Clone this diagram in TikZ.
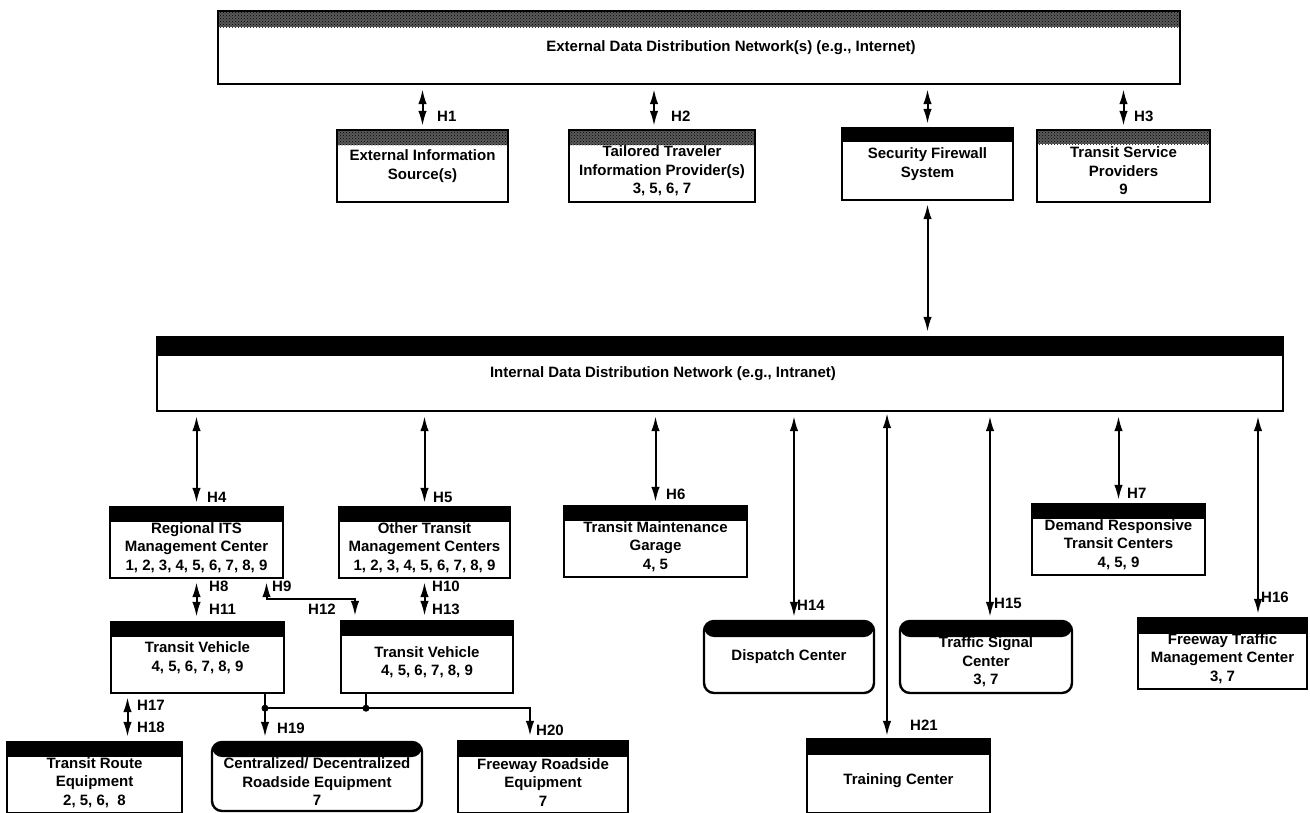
\documentclass[tikz,border=0pt]{standalone}
\usepackage{fontspec}
\setmainfont{Liberation Sans}
\usetikzlibrary{arrows.meta,patterns}
\newcommand\dropline{\rule{0pt}{21pt}}

\begin{document}
\begin{tikzpicture}[x=1pt,y=-1pt,
  font=\fontsize{15}{18.5}\selectfont\bfseries,
  cell/.style={draw,line width=2.4pt,align=center,inner sep=1pt},
  rcell/.style={cell,rounded corners=10pt},
  blackbar/.style={path picture={\fill (path picture bounding box.north west) rectangle ([yshift=-#1]path picture bounding box.north east);}},
  dotbar/.style={path picture={\fill[black!65] (path picture bounding box.north west) rectangle ([yshift=-#1]path picture bounding box.north east);
    \fill[pattern=crosshatch dots] (path picture bounding box.north west) rectangle ([yshift=-#1]path picture bounding box.north east);}},
  link/.style={{Latex[length=15pt,width=8.5pt]}-{Latex[length=15pt,width=8.5pt]},line width=2pt,shorten <=3pt,shorten >=4pt},
  feed/.style={-{Latex[length=15pt,width=8.5pt]},line width=2pt,shorten >=4pt},
  wire/.style={line width=2pt},
  hname/.style={anchor=west,inner sep=0pt}]
\useasboundingbox (0,0) rectangle (1310,812);

\node[cell,dotbar=16pt,minimum width=962pt,minimum height=73pt] (ext) at (699,47.5) {\hspace*{64pt}External Data Distribution Network(s) (e.g., Internet)};
\node[cell,dotbar=15pt,minimum width=171pt,minimum height=72pt] (eis) at (422.5,166) {External Information\\Source(s)};
\node[cell,dotbar=15pt,minimum width=186pt,minimum height=72pt] (ttip) at (662,166) {\dropline Tailored Traveler\\Information Provider(s)\\3, 5, 6, 7};
\node[cell,blackbar=14pt,minimum width=171pt,minimum height=72pt] (fw) at (927.5,164) {Security Firewall\\System};
\node[cell,dotbar=14pt,minimum width=173pt,minimum height=72pt] (tsp) at (1123.5,166) {\dropline Transit Service\\Providers\\9};

\node[cell,blackbar=19pt,minimum width=1126pt,minimum height=74pt] (int) at (720,374) {Internal Data Distribution Network (e.g., Intranet)\hspace*{114pt}};

\node[cell,blackbar=15pt,minimum width=173pt,minimum height=71pt] (reg) at (196.5,542.5) {\dropline Regional ITS\\Management Center\\1, 2, 3, 4, 5, 6, 7, 8, 9};
\node[cell,blackbar=15pt,minimum width=171pt,minimum height=71pt] (oth) at (424.5,542.5) {\dropline Other Transit\\Management Centers\\1, 2, 3, 4, 5, 6, 7, 8, 9};
\node[cell,blackbar=15pt,minimum width=183pt,minimum height=71pt] (tmg) at (655.5,541.5) {\dropline Transit Maintenance\\Garage\\4, 5};
\node[cell,blackbar=15pt,minimum width=173pt,minimum height=71pt] (drt) at (1118.5,539.5) {\dropline Demand Responsive\\Transit Centers\\4, 5, 9};

\node[cell,blackbar=15pt,minimum width=173pt,minimum height=71pt] (tv1) at (197.5,657.5) {Transit Vehicle\\4, 5, 6, 7, 8, 9};
\node[cell,blackbar=15pt,minimum width=172pt,minimum height=72pt] (tv2) at (427,657) {\dropline Transit Vehicle\\4, 5, 6, 7, 8, 9};
\node[rcell,blackbar=16pt,minimum width=170pt,minimum height=72pt] (dsp) at (789,657) {Dispatch Center};
\node[rcell,blackbar=16pt,minimum width=172pt,minimum height=72pt] (tsc) at (986,657) {\dropline Traffic Signal\\Center\\3, 7};
\node[cell,blackbar=16pt,minimum width=169pt,minimum height=71pt] (ftm) at (1222.5,653.5) {\dropline Freeway Traffic\\Management Center\\3, 7};

\node[cell,blackbar=15pt,minimum width=175pt,minimum height=71pt] (tre) at (94.5,777.5) {\dropline Transit Route\\Equipment\\2, 5, 6, \ 8};
\node[rcell,blackbar=15pt,minimum width=210pt,minimum height=69pt] (cen) at (317,776.5) {\dropline Centralized/ Decentralized\\Roadside Equipment\\7};
\node[cell,blackbar=16pt,minimum width=170pt,minimum height=72pt] (frs) at (543,777) {\dropline Freeway Roadside\\Equipment\\7};
\node[cell,blackbar=16pt,minimum width=183pt,minimum height=74pt] (trn) at (898.5,776) {\dropline Training Center};

\coordinate (a2) at ([xshift=-8pt]ttip.north);
\draw[link] (eis.north) -- (eis.north |- ext.south);
\draw[link] (a2) -- (a2 |- ext.south);
\draw[link] (fw.north) -- (fw.north |- ext.south);
\draw[link] (tsp.north) -- (tsp.north |- ext.south);
\draw[link] (fw.south) -- (fw.south |- int.north);

\coordinate (a14) at ([xshift=5pt]dsp.north);
\coordinate (a15) at ([xshift=4pt]tsc.north);
\coordinate (a16) at ([xshift=35.5pt]ftm.north);
\coordinate (a21) at ([xshift=-11.5pt]trn.north);
\draw[link] (reg.north) -- (reg.north |- int.south);
\draw[link] (oth.north) -- (oth.north |- int.south);
\draw[link] (tmg.north) -- (tmg.north |- int.south);
\draw[link] (drt.north) -- (drt.north |- int.south);
\draw[link] (a14) -- (a14 |- int.south);
\draw[link] (a15) -- (a15 |- int.south);
\draw[link] (a16) -- (a16 |- int.south);
\draw[link,shorten <=2pt,shorten >=1pt] (a21) -- (a21 |- int.south);

\coordinate (r9) at ([xshift=70pt]reg.south);
\coordinate (v12) at ([xshift=-72pt]tv2.north);
\coordinate (v17) at ([xshift=-70pt]tv1.south);
\draw[link] (reg.south) -- (reg.south |- tv1.north);
\draw[link] (r9) -- ++(0,20) -| (v12);
\draw[link] (oth.south) -- (oth.south |- tv2.north);
\draw[link] (v17) -- (v17 |- tre.north);

\coordinate (j1) at ([xshift=67.5pt,yshift=-14pt]tv1.south);
\coordinate (t2) at ([xshift=-61pt]tv2.south);
\coordinate (j2) at (t2 |- j1);
\coordinate (f20) at ([xshift=-13pt]frs.north);
\draw[wire] (j1 |- tv1.south) -- (j1);
\draw[wire] (t2) -- (j2);
\draw[feed] (j1) -- (j1 |- cen.north);
\draw[feed] (j1) -| (f20);
\fill (j1) circle (3.5pt) (j2) circle (3.5pt);

\node[hname] (h1) at (437,116) {H1};
\node[hname] (h2) at (671,116) {H2};
\node[hname] (h3) at (1134,116) {H3};
\node[hname] (h4) at (207,497) {H4};
\node[hname] (h5) at (433,497) {H5};
\node[hname] (h6) at (666,494) {H6};
\node[hname] (h7) at (1127,493) {H7};
\node[hname] (h8) at (209,586) {H8};
\node[hname] (h11) at (209,609) {H11};
\node[hname] (h9) at (272,586) {H9};
\node[hname] (h12) at (308,609) {H12};
\node[hname] (h10) at (432,586) {H10};
\node[hname] (h13) at (432,609) {H13};
\node[hname] (h14) at (797,605) {H14};
\node[hname] (h15) at (994,603) {H15};
\node[hname] (h16) at (1261,597) {H16};
\node[hname] (h17) at (137,705) {H17};
\node[hname] (h18) at (137,727) {H18};
\node[hname] (h19) at (277,728) {H19};
\node[hname] (h20) at (536,730) {H20};
\node[hname] (h21) at (910,725) {H21};
\end{tikzpicture}
\end{document}
